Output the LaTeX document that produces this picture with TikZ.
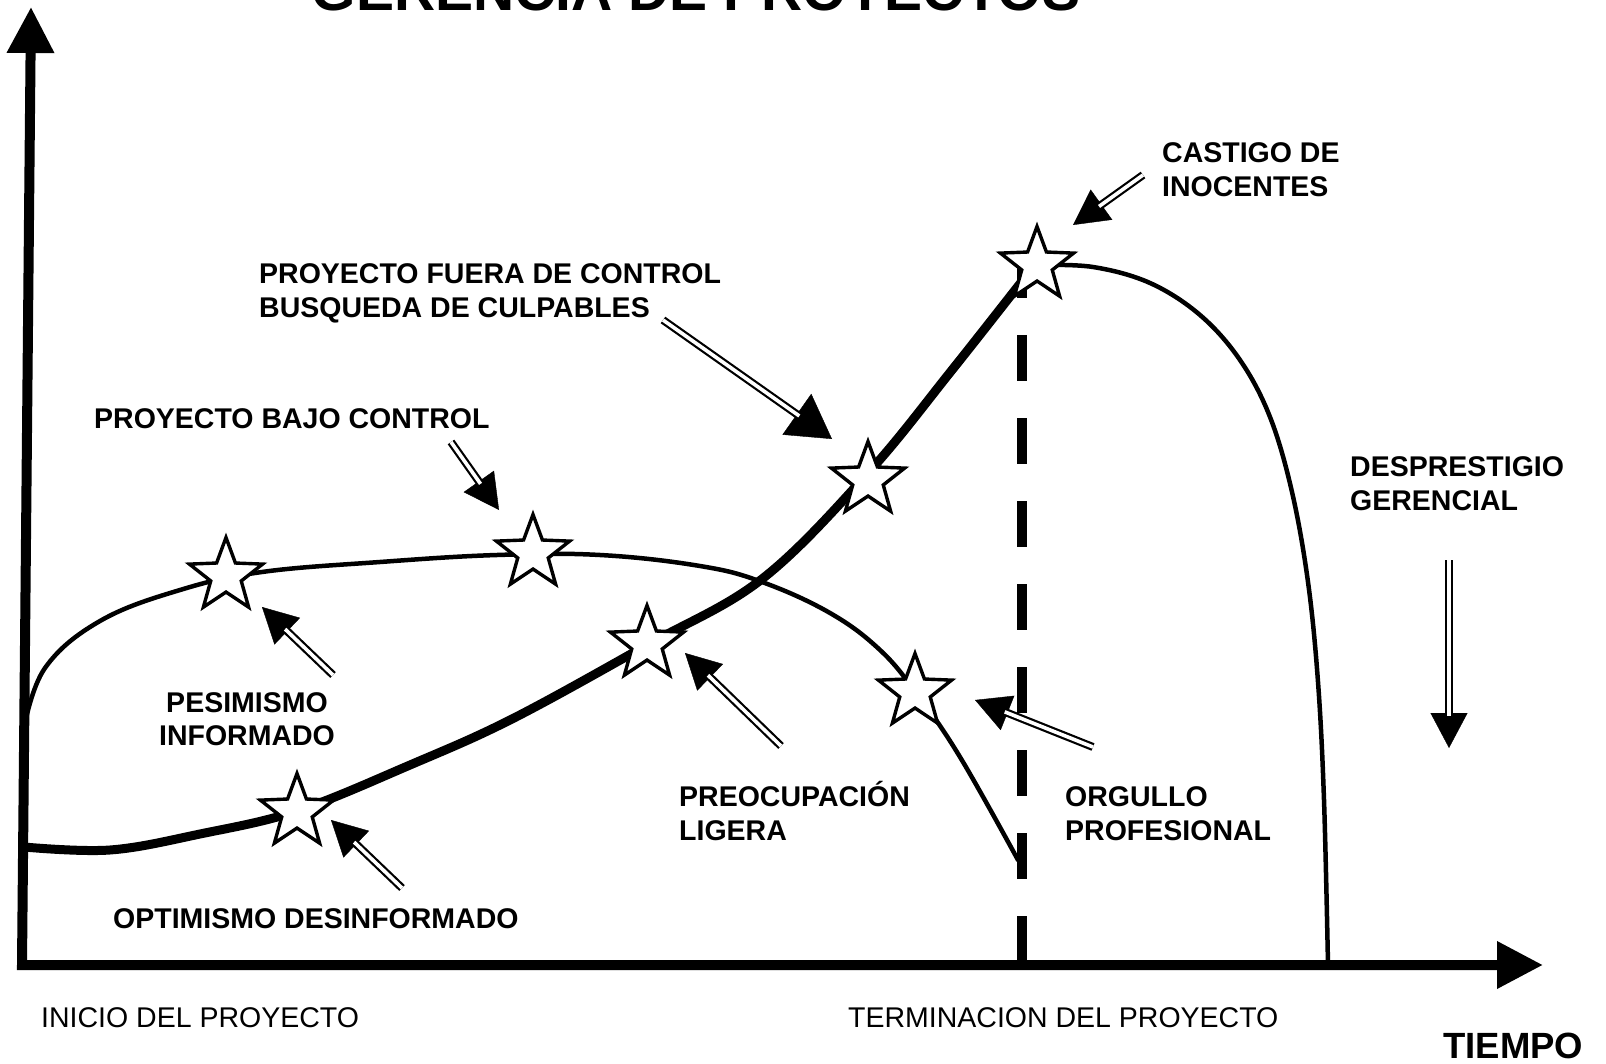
\documentclass[tikz,border=0pt]{standalone}
\usepackage{fontspec}
\setmainfont{Liberation Sans}
\usetikzlibrary{arrows.meta,shapes.geometric}
\begin{document}
\begin{tikzpicture}[x=1pt,y=-1pt,
  lbl/.style={font=\fontsize{28.5}{34}\selectfont\bfseries, inner sep=0pt, align=left, anchor=base west},
  lblc/.style={font=\fontsize{28.5}{33}\selectfont\bfseries, inner sep=0pt, align=center, anchor=base},
  plain/.style={font=\fontsize{28.5}{34}\selectfont, inner sep=0pt, anchor=base west},
  starnode/.style={star, star points=5, star point ratio=2.4, minimum size=77pt, inner sep=0pt, draw=black, fill=white, line width=3.4pt, line join=miter},
  axisline/.style={line width=10pt, line join=miter, {Triangle[length=46pt,width=45pt]}-{Triangle[length=46pt,width=45pt]}},
  thickcurve/.style={line width=9pt, line cap=round, line join=round},
  thincurve/.style={line width=4.5pt, line cap=round, line join=round},
  dashline/.style={line width=10pt, dash pattern=on 46pt off 37pt},
  headS/.style={line width=0.4pt, -{Triangle[length=35pt,width=37pt]}},
  headL/.style={line width=0.4pt, -{Triangle[length=43pt,width=50pt]}},
  shaft/.style={line width=2.2pt, double=white, double distance=3.6pt, shorten >=#1},
]
\useasboundingbox (0,0) rectangle (1606,1064);
\clip (0,0) rectangle (1606,1064);

% title (cut off at the top, as in the original)
\node[font=\fontsize{57}{60}\selectfont\bfseries, anchor=base, inner sep=0pt] (title) at (696,11) {GERENCIA DE PROYECTOS};

% axes
\coordinate (ytop) at (31,7);
\coordinate (O) at (22,965);
\coordinate (xend) at (1543,965);
\draw[axisline] (ytop) -- (O) -- (xend);

% dashed project-end line
\coordinate (dtop) at (1022,252);
\coordinate (dbot) at (1022,962);
\draw[dashline] (dtop) -- (dbot);

% upper (thin) curve
\draw[thincurve] plot[smooth, tension=0.65] coordinates {(24,728) (45,668) (100,621) (180,590) (262,572) (380,562) (497,555) (600,555) (700,566) (762,582) (830,613) (880,650) (917,694) (960,757) (1018,860)};

% lower (thick) curve
\draw[thickcurve] plot[smooth, tension=0.6] coordinates {(24,847) (110,850) (200,834) (297,811) (410,765) (512,719) (647,645) (762,579) (868,473) (952,370) (1037,262)};

% right (thin) curve
\draw[thincurve] plot[smooth, tension=0.6] coordinates {(1037,265) (1093,267) (1150,283) (1200,315) (1240,360) (1270,417) (1292,492) (1308,582) (1318,682) (1324,800) (1328,965)};

% stars
\node[starnode] (s1) at (226,576) {};
\node[starnode] (s2) at (533,553) {};
\node[starnode] (s3) at (297,812) {};
\node[starnode] (s4) at (647,644) {};
\node[starnode] (s5) at (868,480) {};
\node[starnode] (s6) at (1037,265) {};
\node[starnode] (s7) at (915,692) {};

% arrow end points
\coordinate (t1) at (333,675);  \coordinate (h1) at (262,607);
\coordinate (t2) at (451,442);  \coordinate (h2) at (499,510);
\coordinate (t3) at (663,320);  \coordinate (h3) at (832,439);
\coordinate (t4) at (1143,175); \coordinate (h4) at (1073,225);
\coordinate (t5) at (781,746);  \coordinate (h5) at (685,653);
\coordinate (t6) at (1093,747); \coordinate (h6) at (975,700);
\coordinate (t7) at (402,888);  \coordinate (h7) at (331,820);
\coordinate (t8) at (1449,560); \coordinate (h8) at (1449,748);

\foreach \a in {1,2,4,5,6,7,8} {
  \draw[headS] (t\a) -- (h\a);
  \draw[shaft=32pt] (t\a) -- (h\a);
}
\draw[headL] (t3) -- (h3);
\draw[shaft=40pt] (t3) -- (h3);

% labels (base = baseline of the last line)
\node[lbl] (castigo) at (1162,197) {CASTIGO DE\\INOCENTES};
\node[lbl] (fuera) at (259,318) {PROYECTO FUERA DE CONTROL\\BUSQUEDA DE CULPABLES};
\node[lbl] (bajo) at (94,428) {PROYECTO BAJO CONTROL};
\node[lbl] (despres) at (1350,510) {DESPRESTIGIO\\GERENCIAL};
\node[lblc] (pesim) at (247,745) {PESIMISMO\\INFORMADO};
\node[lbl] (preoc) at (679,840) {PREOCUPACIÓN\\LIGERA};
\node[lbl] (orgullo) at (1065,840) {ORGULLO\\PROFESIONAL};
\node[lbl] (optim) at (113,928) {OPTIMISMO DESINFORMADO};
\node[plain] (inicio) at (41,1027) {INICIO DEL PROYECTO};
\node[plain] (termin) at (848,1027) {TERMINACION DEL PROYECTO};
\node[font=\fontsize{36.5}{40}\selectfont\bfseries, inner sep=0pt, anchor=base west] (tiempo) at (1443,1058) {TIEMPO};
\end{tikzpicture}
\end{document}
